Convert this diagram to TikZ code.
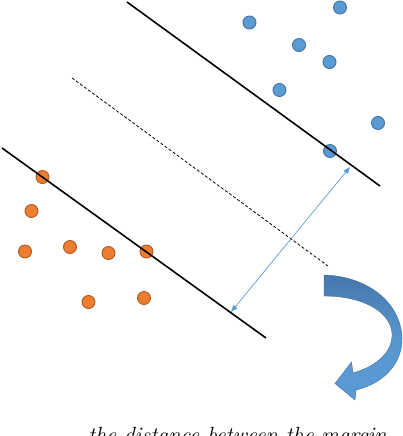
\documentclass[tikz,border=0pt]{standalone}
\usetikzlibrary{arrows.meta}
\definecolor{bfill}{HTML}{5B9BD5}
\definecolor{bedge}{HTML}{41719C}
\definecolor{ofill}{HTML}{ED7D31}
\definecolor{oedge}{HTML}{AE5A21}
\definecolor{adark}{HTML}{4676AC}
\tikzset{
  bdot/.style={circle, fill=bfill, draw=bedge, line width=0.9pt, minimum size=13pt, inner sep=0pt},
  odot/.style={circle, fill=ofill, draw=oedge, line width=0.9pt, minimum size=13pt, inner sep=0pt},
  margin/.style={line width=1.6pt, black},
  midline/.style={line width=0.8pt, black, dash pattern=on 3pt off 2pt},
  distarrow/.style={bfill, line width=0.7pt, {Triangle[length=7pt,width=5pt]}-{Triangle[length=7pt,width=5pt]}},
  bigarrow/.style={draw=bedge, line width=0.4pt, top color=adark, bottom color=bfill, middle color=bfill!85!adark},
  caption/.style={font=\fontsize{22}{26}\selectfont\itshape, inner sep=0pt, anchor=base west}
}
\begin{document}
\begin{tikzpicture}[x=1pt, y=-1pt]
\useasboundingbox (0,0) rectangle (402,436);
% margin lines
\coordinate (u1) at (127,2);   \coordinate (u2) at (380,186);
\coordinate (m1) at (72,78);   \coordinate (m2) at (328,266);
\coordinate (l1) at (2,148);   \coordinate (l2) at (266,338);
\coordinate (a1) at (231,312); \coordinate (a2) at (350,167);
\draw[midline] (m1) -- (m2);
% blue dots
\node[bdot] (b1) at (249.5,22.5) {};
\node[bdot] (b2) at (340,7.5) {};
\node[bdot] (b3) at (299,45) {};
\node[bdot] (b4) at (329.5,62) {};
\node[bdot] (b5) at (279.5,90) {};
\node[bdot] (b6) at (378,123) {};
\node[bdot] (b7) at (330,151) {};
% orange dots
\node[odot] (o1) at (42.5,177) {};
\node[odot] (o2) at (31.5,211) {};
\node[odot] (o3) at (25,251.5) {};
\node[odot] (o4) at (70,247) {};
\node[odot] (o5) at (108.5,253) {};
\node[odot] (o6) at (146.5,251.5) {};
\node[odot] (o7) at (88.5,302) {};
\node[odot] (o8) at (144,298) {};
\draw[margin] (u1) -- (u2);
\draw[margin] (l1) -- (l2);
\draw[distarrow] (a1) -- (a2);
% curved block arrow
\path[bigarrow] (324,275) .. controls (363,276) and (397,298) .. (401.7,333)
  .. controls (405,360) and (386,383) .. (356,390)
  -- (355,400) -- (335,383.5) -- (351.5,362) -- (353,373)
  .. controls (377,366) and (393,352) .. (392,333)
  .. controls (390,311) and (362,296) .. (324,296) -- cycle;
% caption (cut off by the page edge, as in the reference)
\node[caption] (cap) at (88,442) {the distance between the margin};
\end{tikzpicture}
\end{document}
